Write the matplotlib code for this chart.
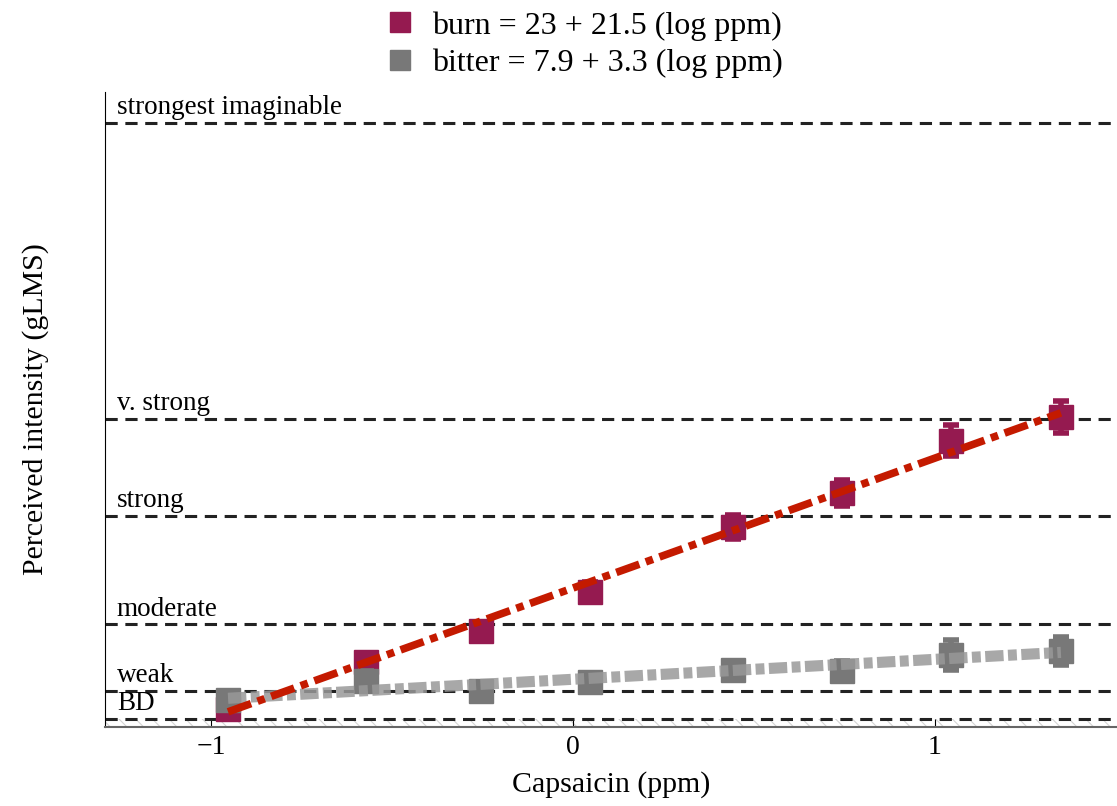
import numpy as np
import matplotlib
matplotlib.use("Agg")
from matplotlib import pyplot as plt

plt.rcParams['font.family'] = ['Liberation Serif', 'DejaVu Serif']
plt.rcParams['hatch.linewidth'] = 0.8

# log10 capsaicin concentration (ppm)
logc = [-0.953, -0.572, -0.254, 0.047, 0.442, 0.743, 1.044, 1.348]

# mean gLMS ratings and errors
burn = [3.0, 10.8, 15.9, 22.4, 33.1, 38.7, 47.4, 51.3]
burn_err = [1.3, 1.5, 1.4, 1.6, 2.0, 2.2, 2.6, 2.7]
bitter = [4.5, 7.6, 6.0, 7.5, 9.4, 9.3, 11.9, 12.6]
bitter_err = [1.5, 1.6, 1.4, 1.3, 1.5, 1.6, 2.5, 2.3]

# regression lines: intercept, slope
burn_fit = (23, 21.5)
bitter_fit = (7.9, 3.3)

# gLMS anchors
anchors = ["BD", "weak", "moderate", "strong", "v. strong", "strongest imaginable"]
anchor_vals = [1.4, 6, 17, 35, 51, 100]

burn_col = '#951a50'
bitter_col = '#787878'

fig = plt.figure(figsize=(11.17, 8.06), dpi=100)
ax = fig.add_axes([0.094, 0.098, 0.906, 0.788])
ax.set_xlim(-1.293, 1.503)
ax.set_ylim(0, 105.1)

# faint hatch under the detection threshold
xx = np.array([-1.293, 1.503])
ax.fill_between(xx, 0, 1.4, facecolor='none', edgecolor='#d4d4d4', hatch='\\\\', linewidth=0)

for name, v in zip(anchors, anchor_vals):
    ax.axhline(v, color='#222222', lw=2.2, ls=(0, (4, 2.5)), zorder=2)
    ax.annotate(name, (-1.26, v), xytext=(0, 6), textcoords='offset points',
                fontsize=19.5, va='baseline', ha='left')

ax.errorbar(logc, burn, yerr=burn_err, fmt='s', color=burn_col, ms=17,
            elinewidth=4, capsize=6, capthick=4, zorder=3,
            label='burn = %g + %g (log ppm)' % burn_fit)
ax.errorbar(logc, bitter, yerr=bitter_err, fmt='s', color=bitter_col, ms=17,
            elinewidth=4, capsize=6, capthick=4, zorder=4,
            label='bitter = %g + %g (log ppm)' % bitter_fit)

xl = np.array([logc[0], logc[-1]])
ax.plot(xl, bitter_fit[0] + bitter_fit[1]*xl, color='#999999', alpha=0.85,
        lw=8, ls=(0, (1.65, 0.4, 0.8, 0.4)), zorder=5)
ax.plot(xl, burn_fit[0] + burn_fit[1]*xl, color='#c41a00',
        lw=5.5, ls=(0, (3.2, 0.9, 1.0, 0.9)), zorder=6)

ax.spines['top'].set_visible(False)
ax.spines['right'].set_visible(False)
ax.spines['bottom'].set_color('#666666')
ax.spines['bottom'].set_linewidth(1.5)
ax.set_yticks([])
ax.set_xticks([-1, 0, 1])
ax.set_xticklabels(['\u22121', '0', '1'])
ax.tick_params(axis='x', direction='in', length=6, labelsize=20, pad=6)
ax.set_xlabel("Capsaicin (ppm)", fontsize=21.5, labelpad=8)
ax.set_ylabel("Perceived intensity (gLMS)", fontsize=21.5, labelpad=40)

handles = [plt.Line2D([], [], marker='s', ls='', color=c, ms=15) for c in (burn_col, bitter_col)]
labels = ['burn = %g + %g (log ppm)' % burn_fit, 'bitter = %g + %g (log ppm)' % bitter_fit]
fig.legend(handles, labels, loc='upper center', bbox_to_anchor=(0.521, 1.022),
           frameon=False, fontsize=23, labelspacing=0.25, handletextpad=0.4,
           handlelength=1.2)

fig.savefig("out.png", dpi=100)
